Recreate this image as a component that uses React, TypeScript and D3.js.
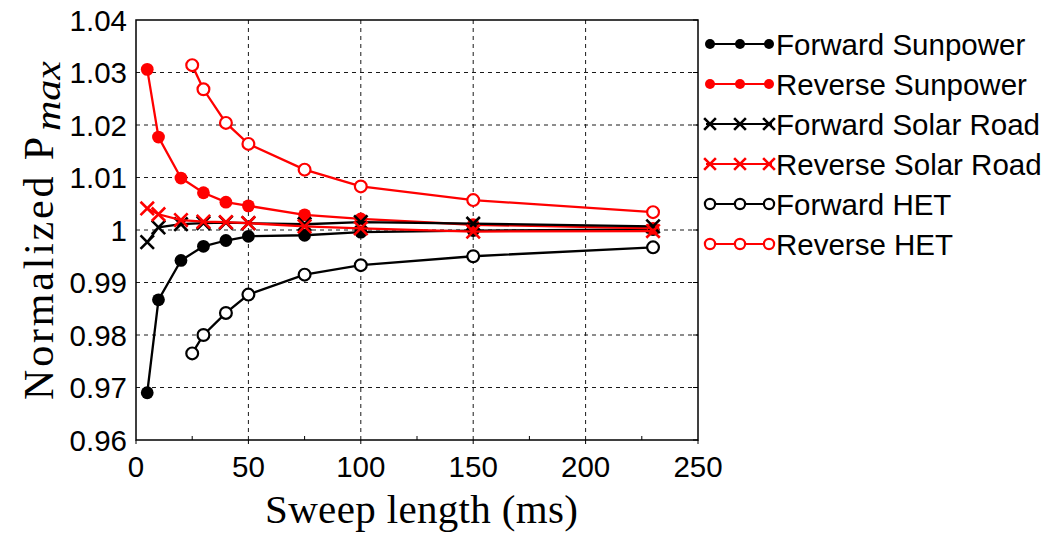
import { useRef, useEffect } from 'react';
import * as d3 from 'd3';

// sweep lengths (ms)
const sweepSunpower = [5, 10, 20, 30, 40, 50, 75, 100, 150, 230];
const sweepSolarRoad = [5, 10, 20, 30, 40, 50, 75, 100, 150, 230];
const sweepHET = [25, 30, 40, 50, 75, 100, 150, 230];

// normalized Pmax values
const fwdSunpower = [0.969, 0.9867, 0.9942, 0.9969, 0.998, 0.9988, 0.999, 0.9996, 0.9999, 1.0001];
const revSunpower = [1.0306, 1.0177, 1.0099, 1.0071, 1.0053, 1.0046, 1.0029, 1.0021, 1.001, 1.0003];
const fwdSolarRoad = [0.9977, 1.0005, 1.0011, 1.0013, 1.0014, 1.0013, 1.0011, 1.0015, 1.0012, 1.0007];
const revSolarRoad = [1.0041, 1.003, 1.0019, 1.0016, 1.0015, 1.0013, 1.0007, 1.0003, 0.9997, 0.9998];
const fwdHET = [0.9765, 0.98, 0.9842, 0.9877, 0.9915, 0.9933, 0.995, 0.9967];
const revHET = [1.0314, 1.0268, 1.0204, 1.0164, 1.0115, 1.0083, 1.0057, 1.0034];

const xTicks = [0, 50, 100, 150, 200, 250];
const xMinorTicks = [25, 75, 125, 175, 225];
const yTicks = [0.96, 0.97, 0.98, 0.99, 1.0, 1.01, 1.02, 1.03, 1.04];

const series = [
  { name: 'Forward Sunpower', xs: sweepSunpower, ys: fwdSunpower, color: '#000000', marker: 'dot' },
  { name: 'Reverse Sunpower', xs: sweepSunpower, ys: revSunpower, color: '#ff0000', marker: 'dot' },
  { name: 'Forward Solar Road', xs: sweepSolarRoad, ys: fwdSolarRoad, color: '#000000', marker: 'cross' },
  { name: 'Reverse Solar Road', xs: sweepSolarRoad, ys: revSolarRoad, color: '#ff0000', marker: 'cross' },
  { name: 'Forward HET', xs: sweepHET, ys: fwdHET, color: '#000000', marker: 'open' },
  { name: 'Reverse HET', xs: sweepHET, ys: revHET, color: '#ff0000', marker: 'open' },
];

const drawMarker = (g, kind, color, cx, cy, size) => {
  if (kind === 'dot') {
    g.append('circle').attr('cx', cx).attr('cy', cy).attr('r', size).attr('fill', color);
  } else if (kind === 'open') {
    g.append('circle').attr('cx', cx).attr('cy', cy).attr('r', size - 0.5)
      .attr('fill', '#ffffff').attr('stroke', color).attr('stroke-width', 2.2);
  } else {
    const s = size * 1.05;
    g.append('path')
      .attr('d', `M${cx - s},${cy - s}L${cx + s},${cy + s}M${cx - s},${cy + s}L${cx + s},${cy - s}`)
      .attr('stroke', color).attr('stroke-width', 2.6).attr('fill', 'none');
  }
};

const Chart = () => {
  const svgRef = useRef(null);

  useEffect(() => {
    const svg = d3.select(svgRef.current);
    svg.selectAll('*').remove();

    const MARGIN = { TOP: 20, LEFT: 136, RIGHT: 698, BOTTOM: 440 };

    const xScale = d3.scaleLinear().domain([0, 250]).range([MARGIN.LEFT, MARGIN.RIGHT]);
    const yScale = d3.scaleLinear().domain([0.96, 1.04]).range([MARGIN.BOTTOM, MARGIN.TOP]);

    // grid
    const grid = svg.append('g').attr('stroke', '#1a1a1a').attr('stroke-width', 1).attr('stroke-dasharray', '4 4');
    xTicks.slice(1, -1).forEach((t) => {
      grid.append('line').attr('x1', xScale(t)).attr('x2', xScale(t))
        .attr('y1', MARGIN.TOP).attr('y2', MARGIN.BOTTOM);
    });
    yTicks.slice(1, -1).forEach((t) => {
      grid.append('line').attr('x1', MARGIN.LEFT).attr('x2', MARGIN.RIGHT)
        .attr('y1', yScale(t)).attr('y2', yScale(t));
    });

    // frame
    svg.append('rect')
      .attr('x', MARGIN.LEFT).attr('y', MARGIN.TOP)
      .attr('width', MARGIN.RIGHT - MARGIN.LEFT).attr('height', MARGIN.BOTTOM - MARGIN.TOP)
      .attr('fill', 'none').attr('stroke', '#000').attr('stroke-width', 1.5);

    // ticks
    const ticks = svg.append('g').attr('stroke', '#000').attr('stroke-width', 1);
    xMinorTicks.forEach((t) => {
      ticks.append('line').attr('x1', xScale(t)).attr('x2', xScale(t))
        .attr('y1', MARGIN.BOTTOM).attr('y2', MARGIN.BOTTOM - 4);
    });
    xTicks.forEach((t) => {
      ticks.append('line').attr('x1', xScale(t)).attr('x2', xScale(t))
        .attr('y1', MARGIN.BOTTOM).attr('y2', MARGIN.BOTTOM + 4);
    });
    yTicks.forEach((t) => {
      ticks.append('line').attr('x1', MARGIN.RIGHT).attr('x2', MARGIN.RIGHT - 5)
        .attr('y1', yScale(t)).attr('y2', yScale(t));
    });

    // tick labels
    svg.append('g')
      .selectAll('text')
      .data(yTicks)
      .join('text')
      .attr('x', MARGIN.LEFT - 9)
      .attr('y', (d) => yScale(d))
      .attr('dy', '0.36em')
      .attr('text-anchor', 'end')
      .attr('font-family', '"Liberation Sans", Arial, sans-serif')
      .attr('font-size', 29.5)
      .text((d) => (d === 1 ? '1' : d3.format('.2f')(d)));

    svg.append('g')
      .selectAll('text')
      .data(xTicks)
      .join('text')
      .attr('x', (d) => xScale(d))
      .attr('y', MARGIN.BOTTOM + 37)
      .attr('text-anchor', 'middle')
      .attr('font-family', '"Liberation Sans", Arial, sans-serif')
      .attr('font-size', 29.5)
      .text((d) => d);

    // series
    const line = d3.line().x((d) => xScale(d[0])).y((d) => yScale(d[1]));
    series.forEach((s) => {
      const pts = s.xs.map((x, i) => [x, s.ys[i]]);
      const g = svg.append('g');
      g.append('path').attr('d', line(pts)).attr('stroke', s.color)
        .attr('stroke-width', 2.3).attr('fill', 'none');
      pts.forEach((p) => drawMarker(g, s.marker, s.color, xScale(p[0]), yScale(p[1]), 6.4));
    });

    // legend
    const legend = svg.append('g');
    series.forEach((s, i) => {
      const cy = 44 + i * 40;
      legend.append('line').attr('x1', 706).attr('x2', 772).attr('y1', cy).attr('y2', cy)
        .attr('stroke', s.color).attr('stroke-width', 2);
      const ms = s.marker === 'dot' ? 5 : 5.6;
      [710, 740, 769].forEach((cx) => drawMarker(legend, s.marker, s.color, cx, cy, ms));
      legend.append('text')
        .attr('x', 776).attr('y', cy + 10.5)
        .attr('font-family', '"Liberation Sans", Arial, sans-serif')
        .attr('font-size', 29.5)
        .text(s.name);
    });

    // axis titles
    svg.append('text')
      .attr('x', 265).attr('y', 523)
      .attr('font-family', '"Liberation Serif", "Times New Roman", serif')
      .attr('font-size', 41)
      .attr('textLength', 313).attr('lengthAdjust', 'spacing')
      .text('Sweep length (ms)');

    const yTitle = svg.append('g').attr('transform', 'translate(53, 400) rotate(-90)');
    yTitle.append('text')
      .attr('x', 0).attr('y', 0)
      .attr('font-family', '"Liberation Serif", "Times New Roman", serif')
      .attr('font-size', 42)
      .attr('textLength', 263).attr('lengthAdjust', 'spacing')
      .text('Normalized P');
    yTitle.append('text')
      .attr('x', 269).attr('y', 7)
      .attr('font-family', '"Liberation Serif", "Times New Roman", serif')
      .attr('font-style', 'italic')
      .attr('font-size', 36)
      .attr('textLength', 70).attr('lengthAdjust', 'spacingAndGlyphs')
      .text('max');
  }, []);

  return (
    <svg
      ref={svgRef}
      width={1059}
      height={534}
      style={{ position: 'absolute', left: 0, top: 0, background: '#fff' }}
    />
  );
};

export default function App() {
  return <Chart />;
}
